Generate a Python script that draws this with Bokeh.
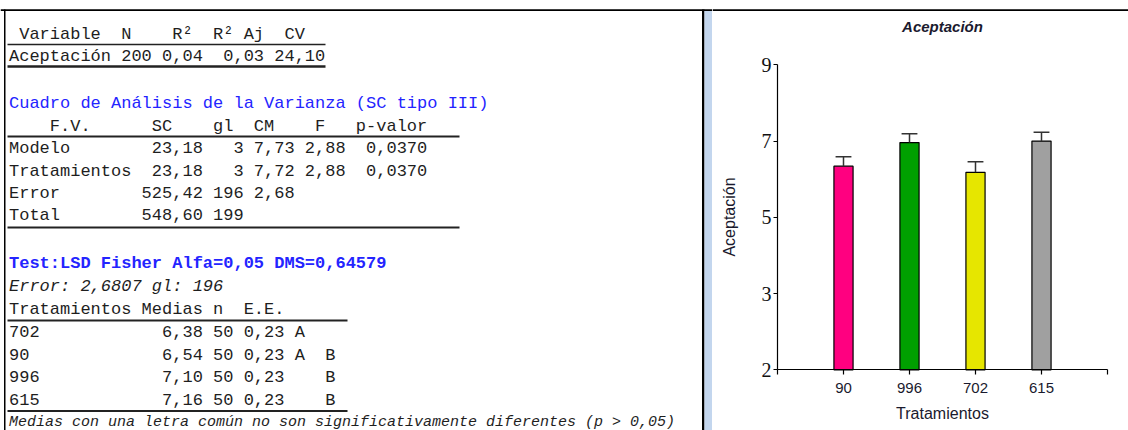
from bokeh.plotting import figure
from bokeh.layouts import row
from bokeh.models import Range1d, FixedTicker
from bokeh.core.properties import value
from bokeh.embed import file_html
from bokeh.resources import INLINE

# ---------------- data: summary table ----------------
summary_header = " Variable  N    R²  R² Aj  CV"
summary_var = "Aceptación"
summary_n = "200"
summary_r2 = "0,04"
summary_r2aj = "0,03"
summary_cv = "24,10"

# ---------------- data: ANOVA table ----------------
anova_title = "Cuadro de Análisis de la Varianza (SC tipo III)"
anova_header = "    F.V.      SC    gl  CM    F   p-valor"
anova_fv = ["Modelo", "Tratamientos", "Error", "Total"]
anova_sc = ["23,18", "23,18", "525,42", "548,60"]
anova_gl = ["3", "3", "196", "199"]
anova_cm = ["7,73", "7,72", "2,68", ""]
anova_f = ["2,88", "2,88", "", ""]
anova_p = ["0,0370", "0,0370", "", ""]

# ---------------- data: LSD test ----------------
lsd_title = "Test:LSD Fisher Alfa=0,05 DMS=0,64579"
lsd_error = "Error: 2,6807 gl: 196"
lsd_header = "Tratamientos Medias n  E.E."
lsd_trat = ["702", "90", "996", "615"]
lsd_means = ["6,38", "6,54", "7,10", "7,16"]
lsd_n = ["50", "50", "50", "50"]
lsd_ee = ["0,23", "0,23", "0,23", "0,23"]
lsd_letters = ["A", "A  B", "   B", "   B"]
lsd_note = "Medias con una letra común no son significativamente diferentes (p > 0,05)"

# ---------------- data: bar chart ----------------
chart_title = "Aceptación"
treatments = ["90", "996", "702", "615"]
bar_means = [6.34, 6.96, 6.18, 7.00]
bar_err = [0.25, 0.23, 0.28, 0.23]
bar_colors = ["#ff0080", "#00a000", "#e6e600", "#a0a0a0"]
y_ticks = [1, 3, 5, 7, 9]
y_tick_labels = ["2", "3", "5", "7", "9"]
y_base = 1

# ---------------- build text rows ----------------
NB = "\u00a0"
def keep_spaces(s):
    return s.replace(" ", NB)

summary_row = f"{summary_var} {summary_n} {summary_r2}  {summary_r2aj} {summary_cv}"
anova_rows = []
for fv, sc, gl, cm, f, pv in zip(anova_fv, anova_sc, anova_gl, anova_cm, anova_f, anova_p):
    anova_rows.append(f"{fv:<12}{sc:>7}{gl:>4}{cm:>5}{f:>5}{pv:>8}".rstrip())
lsd_rows = []
for t, m, n, ee, l in zip(lsd_trat, lsd_means, lsd_n, lsd_ee, lsd_letters):
    lsd_rows.append(f"{t:<12} {m:>6} {n:>2} {ee:>4} {l}")

MONO = value("Liberation Mono")
INK = "#1e1e1e"
BLUE = "#2424ff"
TX = 8.5
H = 430
LW = 712

# ---------------- left text panel (page coordinates) ----------------
left = figure(width=LW, height=H, x_range=Range1d(0, LW), y_range=Range1d(H, 0),
              output_backend="svg", toolbar_location=None, min_border=0,
              title_location=None)
left.axis.visible = False
left.grid.visible = False
left.outline_line_color = None

# frame / borders
left.quad(left=[0], right=[LW], top=[8.8], bottom=[10.6], fill_color="black", line_color=None)
left.quad(left=[3.5], right=[5], top=[9], bottom=[H], fill_color="black", line_color=None)
left.quad(left=[701.5], right=[704], top=[9], bottom=[H], fill_color="black", line_color=None)
left.quad(left=[704], right=[712], top=[10.6], bottom=[H], fill_color="#c3d6ee", line_color=None)

normal_text = [summary_header, summary_row, anova_header] + anova_rows + [lsd_header] + lsd_rows
normal_y = [34, 56, 126, 148, 171, 193, 215, 309, 332, 355, 377, 400]
left.text(x=[TX] * len(normal_text), y=normal_y, text=[keep_spaces(s) for s in normal_text],
          text_font=MONO, text_font_size="17px", text_baseline="middle", text_color=INK)
left.text(x=[TX], y=[103], text=[keep_spaces(anova_title)], text_font=MONO, text_font_size="17px",
          text_baseline="middle", text_color=BLUE)
left.text(x=[TX], y=[263], text=[keep_spaces(lsd_title)], text_font=MONO, text_font_size="17px",
          text_baseline="middle", text_color=BLUE, text_font_style="bold")
left.text(x=[TX], y=[286], text=[keep_spaces(lsd_error)], text_font=MONO, text_font_size="17px",
          text_baseline="middle", text_color=INK, text_font_style="italic")
left.text(x=[TX], y=[422], text=[keep_spaces(lsd_note)], text_font=MONO, text_font_size="15px",
          text_baseline="middle", text_color=INK, text_font_style="italic")

# table rules
left.segment(x0=[7] * 6, x1=[325, 325, 459, 459, 347, 347],
             y0=[44, 66, 136, 227, 320, 410.5], y1=[44, 66, 136, 227, 320, 410.5],
             line_color="#222222", line_width=[1.5, 2.5, 2, 2, 2, 2])

# ---------------- right chart ----------------
CW = 1128 - LW                  # canvas width
AX_L, AX_R = 65.0, 395.0        # pixel x of x-range ends (0 and n+1)
AX_T, AX_B = 64.3, 369.3        # pixel y of the y-range ends (top, bottom)
x_lo, x_hi = 0, len(treatments) + 1
y_lo, y_hi = y_ticks[0], y_ticks[-1]
ppx = (AX_R - AX_L) / (x_hi - x_lo)
ppy = (AX_B - AX_T) / (y_hi - y_lo)
x_rng = Range1d(x_lo - AX_L / ppx, x_hi + (CW - AX_R) / ppx)
y_rng = Range1d(y_lo - (H - AX_B) / ppy, y_hi + AX_T / ppy)

p = figure(width=CW, height=H, x_range=x_rng, y_range=y_rng, output_backend="svg",
           toolbar_location=None, min_border=0, title_location=None)
p.extra_x_ranges = {"px": Range1d(0, CW)}
p.extra_y_ranges = {"px": Range1d(H, 0)}
p.grid.visible = False
p.outline_line_color = None

# top border line of the window and the chart title
p.quad(left=[0], right=[CW], top=[8.8], bottom=[10.6], fill_color="black", line_color=None,
       x_range_name="px", y_range_name="px")
p.text(x=[(AX_L + AX_R) / 2], y=[26], text=[chart_title], text_align="center",
       text_baseline="middle", text_font=value("Liberation Sans"), text_font_size="15px",
       text_font_style="bold italic", text_color="#1a1a2e",
       x_range_name="px", y_range_name="px")

xs = list(range(1, len(treatments) + 1))
p.vbar(x=xs, top=bar_means, bottom=y_base, width=0.29, fill_color=bar_colors,
       line_color="black", line_width=1.2)
tops = [m + e for m, e in zip(bar_means, bar_err)]
p.segment(x0=xs, y0=bar_means, x1=xs, y1=tops, line_color="#333333", line_width=1.5)
p.segment(x0=[x - 0.12 for x in xs], y0=tops, x1=[x + 0.12 for x in xs], y1=tops,
          line_color="#333333", line_width=1.5)

NARROW = "Liberation Sans Narrow, Liberation Sans"
p.yaxis.fixed_location = x_lo
p.yaxis.bounds = (y_lo, y_hi)
p.yaxis.ticker = FixedTicker(ticks=y_ticks)
p.yaxis.major_label_overrides = {t: l for t, l in zip(y_ticks, y_tick_labels)}
p.yaxis.major_label_text_font = "Liberation Serif"
p.yaxis.major_label_text_font_size = "20px"
p.yaxis.major_label_text_color = "#111111"
p.yaxis.major_tick_out = 4
p.yaxis.major_tick_in = 0
p.yaxis.minor_tick_line_color = None
p.yaxis.major_label_standoff = 2
p.yaxis.axis_label = "Aceptación"
p.yaxis.axis_label_text_font = NARROW
p.yaxis.axis_label_text_font_size = "16px"
p.yaxis.axis_label_text_font_style = "normal"
p.yaxis.axis_label_text_color = "#1a1a2e"
p.yaxis.axis_label_standoff = 21

p.xaxis.fixed_location = y_base
p.xaxis.bounds = (x_lo, x_hi)
p.xaxis.ticker = FixedTicker(ticks=[x_lo] + xs + [x_hi])
overrides = {x_lo: "", x_hi: ""}
overrides.update({x: t for x, t in zip(xs, treatments)})
p.xaxis.major_label_overrides = overrides
p.xaxis.major_label_text_font = NARROW
p.xaxis.major_label_text_font_size = "15px"
p.xaxis.major_label_text_color = "#1a1a2e"
p.xaxis.major_tick_out = 5
p.xaxis.major_tick_in = 0
p.xaxis.minor_tick_line_color = None
p.xaxis.major_label_standoff = 8
p.xaxis.axis_label = "Tratamientos"
p.xaxis.axis_label_text_font = NARROW
p.xaxis.axis_label_text_font_size = "16px"
p.xaxis.axis_label_text_font_style = "normal"
p.xaxis.axis_label_text_color = "#1a1a2e"
p.xaxis.axis_label_standoff = 9

for ax in (p.xaxis, p.yaxis):
    ax.axis_line_color = "black"
    ax.axis_line_width = 1.2
    ax.major_tick_line_color = "black"
    ax.major_tick_line_width = 1.2

layout = row(left, p)
open("out.html", "w").write(file_html(layout, INLINE))
